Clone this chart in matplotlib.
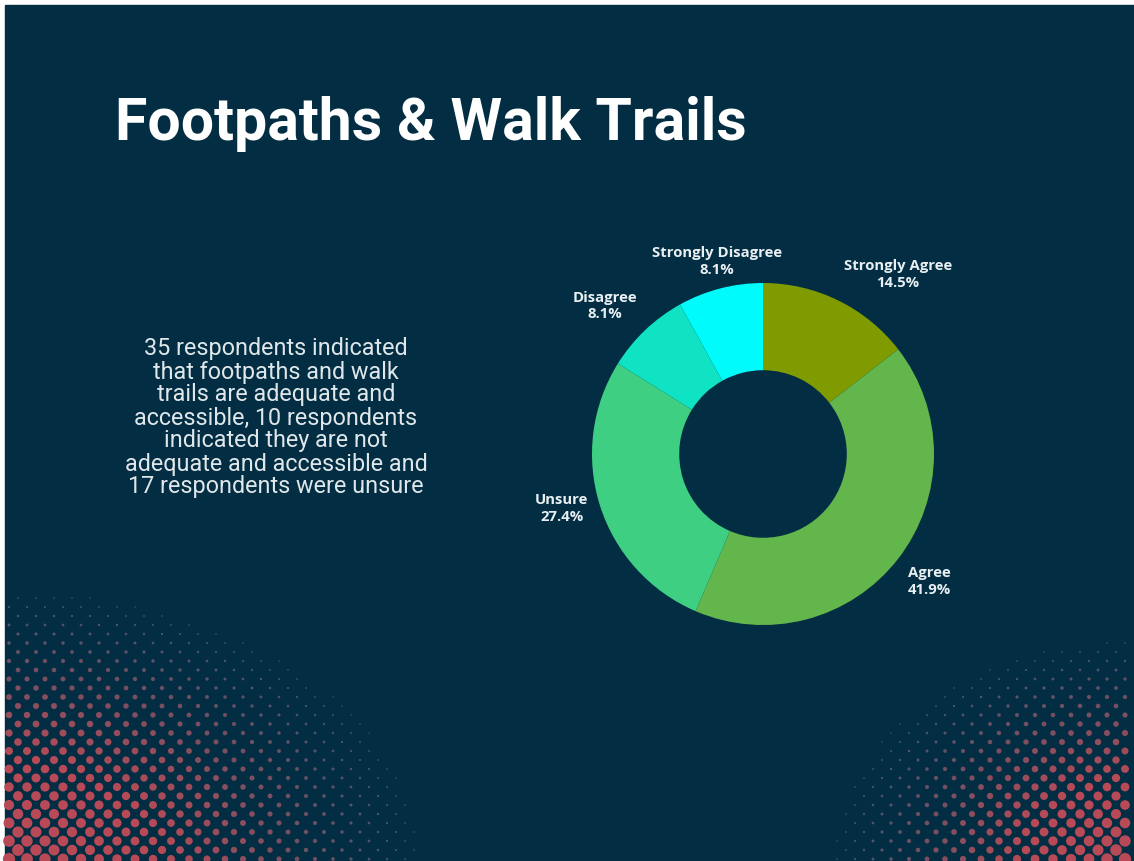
import numpy as np
import matplotlib
matplotlib.use("Agg")
import matplotlib.pyplot as plt
from matplotlib.patches import Rectangle

# survey answers, clockwise from 12 o'clock
categorias = ["Strongly Agree", "Agree", "Unsure", "Disagree", "Strongly Disagree"]
respostas = [9, 26, 17, 5, 5]
cores = ["#7f9b00", "#63b64b", "#3ecf83", "#10e2c4", "#00fbfb"]

titulo = "Footpaths & Walk Trails"
resumo = ("35 respondents indicated\nthat footpaths and walk\ntrails are adequate and\n"
          "accessible, 10 respondents\nindicated they are not\n"
          "adequate and accessible and\n17 respondents were unsure")

FUNDO = "#032d42"
W, H = 1134, 861

fig = plt.figure(figsize=(W / 100, H / 100), dpi=100, facecolor="white")

# background panel in pixel coordinates
bg = fig.add_axes([0, 0, 1, 1])
bg.set_xlim(0, W)
bg.set_ylim(H, 0)
bg.axis("off")
bg.add_patch(Rectangle((5, 5), W - 5, H - 5, color=FUNDO, zorder=0))


def pontilhado(ax, cx, cy, rx, ry, passo=18):
    """halftone dots fading out from a corner"""
    xs, ys, tam = [], [], []
    linha = 0
    y = H - 2
    while y > H - ry - 10:
        off = 0 if linha % 2 == 0 else passo / 2
        x = 9 + off
        while x < W:
            s = np.hypot((x - cx) / rx, (y - cy) / ry)
            if s < 1 and x > 6:
                xs.append(x)
                ys.append(y)
                tam.append(1 - s)
            x += passo
        y -= passo / 2
        linha += 1
    tam = np.array(tam)
    vermelho = np.array([0.72, 0.29, 0.34])
    azul = np.array([0.22, 0.33, 0.42])
    mix = np.clip(tam * 1.6, 0, 1)[:, None]
    cor = azul * (1 - mix) + vermelho * mix
    diam = 1.5 + 11 * tam
    ax.scatter(xs, ys, s=(diam * 0.72) ** 2, c=cor, linewidths=0, zorder=1)


pontilhado(bg, 0, H, 420, 270)
pontilhado(bg, W, H, 300, 220)

bg.text(115, 140, titulo, color="white", fontsize=42.5, fontweight="bold",
        family="Roboto", ha="left", va="baseline", zorder=3)
bg.text(276, 418, resumo, color="#dfe7ea", fontsize=16.8, family="Roboto",
        ha="center", va="center", linespacing=1.0, zorder=3)

# donut chart
cx, cy, R = 763, 454, 171
ax = fig.add_axes([(cx - R) / W, (H - cy - R) / H, 2 * R / W, 2 * R / H])
cunhas, _ = ax.pie(respostas, colors=cores, radius=1, startangle=90, counterclock=False,
                   wedgeprops=dict(width=0.51, linewidth=0))
ax.set_xlim(-1, 1)
ax.set_ylim(-1, 1)
ax.set_aspect("equal")
ax.axis("off")

total = sum(respostas)
for cunha, nome, n in zip(cunhas, categorias, respostas):
    ang = np.deg2rad((cunha.theta1 + cunha.theta2) / 2)
    ux, uy = np.cos(ang), np.sin(ang)
    ha = "left" if ux > 0.35 else ("right" if ux < -0.35 else "center")
    va = "bottom" if uy > 0.35 else ("top" if uy < -0.35 else "center")
    ax.text(1.07 * ux, 1.07 * uy, f"{nome}\n{100 * n / total:.1f}%", ha=ha, va=va,
            multialignment="center", color="#e8eff2", fontsize=10.7, fontweight="bold",
            family="Open Sans", linespacing=1.25, clip_on=False)

fig.savefig("out.png", dpi=100, facecolor=fig.get_facecolor())
